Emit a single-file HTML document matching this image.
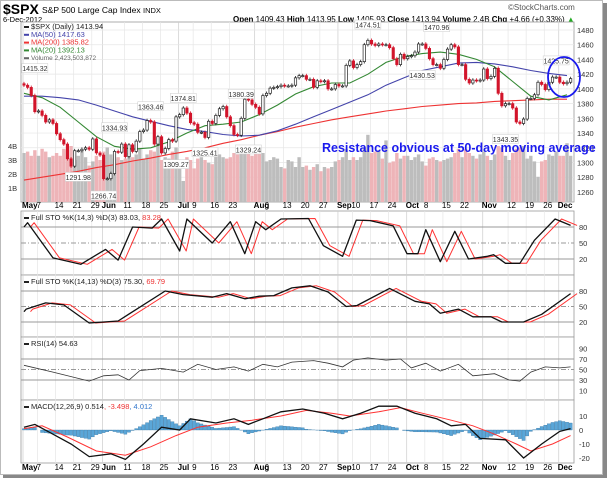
<!DOCTYPE html>
<html><head><meta charset="utf-8"><style>
html,body{margin:0;padding:0;background:#fff;}
svg{display:block;font-family:"Liberation Sans",sans-serif;}
</style></head><body>
<svg id="c" width="609" height="479" viewBox="0 0 609 479" xmlns="http://www.w3.org/2000/svg">
<rect x="0.5" y="0.5" width="602" height="474" fill="#fff" stroke="#bbb"/>
<rect x="603" y="3" width="4" height="474" fill="#888"/>
<rect x="3" y="475" width="604" height="3" fill="#888"/>
<text x="3" y="14" font-size="14" font-weight="bold">$SPX</text>
<text x="42" y="13" font-size="8.5">S&amp;P 500 Large Cap Index <tspan font-size="7.5">INDX</tspan></text>
<text x="508" y="10" font-size="8" fill="#555">©StockCharts.com</text>
<text x="3" y="22" font-size="7.5">6-Dec-2012</text>
<text x="233" y="22" font-size="8"><tspan font-weight="bold">Open</tspan> 1409.43 <tspan font-weight="bold">High</tspan> 1413.95 <tspan font-weight="bold">Low</tspan> 1405.93 <tspan font-weight="bold">Close</tspan> 1413.94 <tspan font-weight="bold">Volume</tspan> 2.4B <tspan font-weight="bold">Chg</tspan> +4.66 (+0.33%) <tspan fill="#2a2">▲</tspan></text>
<g id="g"></g>
</svg>
<script>
const closes=[1405,1402,1391,1369, 1370,1364,1355,1358,1353, 1339,1331,1325,1305,1295, 1316,1316,1318,1320,1318, 1332,1313,1310, 1278,
1278,1285,1315,1314,1325, 1308,1324,1315,1329,1342, 1344,1357,1355,1325,1335, 1313,1319,1331,1329,1362,
1365,1374,1367,1354, 1352,1341,1341,1334,1356, 1353,1364,1373,1376,1362, 1350,1338,1337,1360,1386, 1385,1379,
1375,1366,1391, 1394,1401,1402,1403,1405, 1404,1404,1405,1415,1418, 1418,1413,1413,1402,1411, 1410,1411,1400,1400,1406,
1404,1404,1432,1438, 1429,1433,1437,1460,1466, 1461,1459,1461,1460,1460, 1456,1441,1433,1447,1441,
1444,1445,1450,1461,1461, 1455,1441,1433,1433,1428, 1440,1454,1460,1457,1433, 1433,1413,1408,1412,1411, 1412,
1427,1414, 1417,1428,1394,1377,1380, 1380,1374,1355,1353,1359, 1387,1387,1392,1409, 1406,1399,1409,1416,1416,
1409,1407,1409,1414];
const volumes=[3.5,3.6,3.3,3.7, 3.3,3.8,3.6,3.2,3.3, 3.5,3.3,3.8,3.7,4.0, 3.0,3.3,3.7,3.2,2.6, 2.9,3.3,3.0, 3.6,
3.9,3.4,3.1,3.2,3.0, 3.1,3.5,3.2,3.4,3.8, 3.1,3.4,3.7,3.6,4.2, 3.0,3.2,3.1,3.6,3.9,
3.0,1.5,3.2,3.0, 2.4,3.1,3.2,3.0,2.8, 2.7,3.3,3.4,3.2,3.1, 3.2,3.5,3.4,3.6,3.7, 3.5,3.3,
3.8,3.7,3.5, 2.9,3.0,3.2,3.1,2.5, 2.4,3.0,2.9,2.5,3.2, 2.5,2.6,2.3,2.5,2.7, 2.2,2.5,2.4,2.5,2.9,
3.0,3.2,3.8,3.0, 3.2,3.0,3.2,3.9,4.8, 3.5,3.6,3.7,3.1,4.4, 2.8,2.9,3.5,3.1,3.3,
3.3,3.0,3.2,3.4,2.9, 2.6,3.1,3.2,3.0,2.9, 3.0,3.1,3.2,3.5,3.8, 3.2,3.8,3.5,3.3,3.1, 3.4,
3.6,3.3, 3.0,3.4,4.0,3.9,3.3, 3.0,3.5,3.8,3.9,4.0, 3.1,3.3,2.9,1.8, 2.9,3.0,3.4,3.3,3.6,
3.3,3.3,4.2,3.3];
const ma50=[1390,1390,1388,1385,1378,1370,1362,1356,1350,1345,1342,1338,1336,1337,1343,1352,1362,1372,1382,1392,1405,1415,1425,1430,1435,1436,1434,1430,1425,1421,1418];
const ma20=[1394,1388,1375,1355,1335,1322,1318,1320,1328,1340,1350,1352,1355,1365,1378,1393,1403,1408,1408,1420,1436,1444,1448,1450,1447,1440,1430,1410,1390,1385,1392];
const ma200=[1276,1280,1284,1288,1293,1297,1302,1306,1311,1315,1320,1326,1331,1337,1342,1348,1353,1358,1362,1366,1370,1373,1376,1378,1380,1381,1383,1384,1385,1386,1386];
const sto1Days=[0,1,8,15.7,22.5,26,30,35.4,38,43,45,52,57,61,64,66.8,71,78.6,82.7,88,91.8,95.6,102,105.8,108.8,111,115,119,122.8,128,129.7,133,137,141,146.7,151];
const sto1K=[80,88,22,10,38,18,80,78,95,35,95,50,90,30,90,75,95,96,45,25,93,92,82,30,30,75,15,72,20,25,28,12,12,55,95,83];
const sto2Days=[0,0.6,6,11,18,26,39,44,52,56,61,65,69,74,79,84,89,92,101,108,112,115,120,124,129,132,138,143,151];
const sto2K=[40,45,57,53,18,22,80,73,68,75,65,70,71,86,90,78,50,52,85,60,55,37,45,30,30,20,20,35,75];
const rsiDays=[0,8,18,22,26,29,32,38,44,48,53,58,62,66,70,74,80,84,88,91,95,100,104,107,111,115,120,124,130,134,137,140,144,148,151];
const rsiVals=[58,45,28,38,40,30,48,52,45,60,50,55,47,60,55,64,67,62,55,68,72,68,70,53,62,47,60,38,42,30,28,45,55,53,55];
const macdDays=[0,3,8,13,18,24,28,33,38,43,46,53,58,62,66,71,77,83,88,93,98,103,108,114,118,122,126,133,138,143,148,151];
const macdVals=[2,4,-3,-10,-19,-17,-21,-10,2,0,8,5,8,4,8,13,15,12,8,12,17,17,12,8,3,4,-6,-7,-20,-10,-1,1];
const sigDays=[0,5,12,20,28,35,42,48,56,63,71,78,85,90,98,104,110,118,124,130,136,140,146,151];
const sigVals=[1,3,-5,-15,-18,-12,-4,2,5,7,10,14,12,10,13,16,12,7,3,-3,-10,-15,-10,-4];
const weekLabels=["May","7","14","21","29","Jun","11","18","25","Jul","9","16","23","Aug","6","13","20","27","Sep","10","17","24","Oct","8","15","22","Nov","12","19","26","Dec"];
const weekDays=[0,4,9,14,19,22,28,33,38,43,47,52,57,64,67,72,77,82,87,91,96,101,106,111,116,121,127,134,139,144,148];
const majorMonths=["May","Jun","Jul","Aug","Sep","Oct","Nov","Dec"];
const priceTicks=[1480,1460,1440,1420,1400,1380,1360,1340,1320,1300,1280,1260];
const volTicks=[1,2,3,4];
const annoText=["1415.32","1334.93","1291.98","1266.74","1363.46","1309.27","1374.81","1325.41","1380.39","1329.24","1474.51","1430.53","1470.96","1343.35","1425.75"];
const annoDay=[3,25,15,22,35,42,44,50,60,62,95,110,114,133,147];
const annoPrice=[1415.32,1334.93,1291.98,1266.74,1363.46,1309.27,1374.81,1325.41,1380.39,1329.24,1474.51,1430.53,1470.96,1343.35,1425.75];
const annoAbove=[1,1,0,0,1,0,1,0,1,0,1,0,1,0,1];

const NS="http://www.w3.org/2000/svg";
const G=document.getElementById('g');
function mk(tag,attrs,parent){const e=document.createElementNS(NS,tag);for(const k in attrs)e.setAttribute(k,attrs[k]);(parent||G).appendChild(e);return e;}
const X0=24,DX=3.62,PL=21,PR=574;
const x=i=>X0+i*DX;
const yP=p=>30+(1480-p)*0.736;
const yV=v=>202-v*14;
const yS1=v=>227+(80-v)*32/60;
const yS2=v=>291+(80-v)*31/60;
const yR=v=>359+(70-v)*21/40;
const yM=v=>430-v*1.4;
function pathFrom(days,vals,fx,fy){return days.map((d,k)=>(k?'L':'M')+fx(d).toFixed(1)+','+fy(vals[k]).toFixed(1)).join('');}
function interp(days,vals,d){for(let k=1;k<days.length;k++){if(d<=days[k]){const t=(d-days[k-1])/(days[k]-days[k-1]);return vals[k-1]+t*(vals[k]-vals[k-1]);}}return vals[vals.length-1];}

const panels=[[22,202,'price-panel'],[211,275,'sto-fast-panel'],[275,337,'sto-slow-panel'],[337,400,'rsi-panel'],[400,463,'macd-panel']];
panels.forEach(p=>{
  const r=mk('rect',{x:PL,y:p[0],width:PR-PL,height:p[1]-p[0],fill:'#fff',stroke:'#999','stroke-width':0.8});
  
  
});
weekDays.forEach((d,k)=>{
  panels.forEach(p=>{
    const l=mk('line',{x1:x(d)-1,x2:x(d)-1,y1:p[0],y2:p[1],stroke:majorMonths.includes(weekLabels[k])?'#ccc':'#e6e6e6','stroke-width':0.7});
    
    
  });
  [208,470].forEach(yy=>{
    const t=mk('text',{x:x(d)-2,y:yy,'font-size':8,'font-weight':majorMonths.includes(weekLabels[k])?'bold':'normal'});
    t.textContent=weekLabels[k];
    
    
  });
});
priceTicks.forEach(p=>{
  const l=mk('line',{x1:PL,x2:PR,y1:yP(p),y2:yP(p),stroke:'#e6e6e6','stroke-width':0.7});
  
  
  const t=mk('text',{x:577,y:yP(p)+3,'font-size':7.5,fill:'#333'});
  t.textContent=p;
  
  
});
volTicks.forEach(v=>{
  const t=mk('text',{x:8,y:yV(v)+3,'font-size':7.5,fill:'#333'});
  t.textContent=v+'B';
  
  
});
volumes.forEach((v,i)=>{
  const up=i==0||closes[i]>=closes[i-1];
  const b=mk('rect',{x:x(i)-1.7,y:yV(v),width:3.4,height:202-yV(v),fill:up?'#bdbdbd':'#eeb4b8'});
  
  
});
const maDays=ma50.map((_,k)=>k*5);
[[ma200,'#e33','ma200-line'],[ma50,'#44a','ma50-line'],[ma20,'#383','ma20-line']].forEach(m=>{
  const p=mk('path',{d:pathFrom(maDays,m[0],x,yP),fill:'none',stroke:m[1],'stroke-width':1.1});
  
  
});
closes.forEach((c,i)=>{
  const o=i?closes[i-1]:1407;
  const hi=Math.max(o,c)+2.5,lo=Math.min(o,c)-2.5;
  const up=c>=o;
  const col=up?'#222':'#d2142a';
  const w=mk('line',{x1:x(i),x2:x(i),y1:yP(hi),y2:yP(lo),stroke:col,'stroke-width':0.8});
  
  
  const top=yP(Math.max(o,c)),h=Math.max(1,yP(Math.min(o,c))-top);
  const b=mk('rect',{x:x(i)-1.2,y:top,width:2.4,height:h,fill:up?'#fff':col,stroke:col,'stroke-width':0.7});
  
  
});
annoText.forEach((s,k)=>{
  const cx=x(annoDay[k]),yy=annoAbove[k]?yP(annoPrice[k])-9:yP(annoPrice[k])+9;
  const r=mk('rect',{x:cx-13,y:yy-5,width:26,height:9,fill:'#fff',stroke:'#ccc','stroke-width':0.5});
  
  
  const t=mk('text',{x:cx,y:yy+2.5,'font-size':7,'text-anchor':'middle',fill:'#333'});
  t.textContent=s;
  
  
});
const leg=[['$SPX (Daily) 1413.94','#222'],['MA(50) 1417.63','#44a'],['MA(200) 1385.82','#e33'],['MA(20) 1392.13','#383'],['Volume 2,423,503,872','#666']];
leg.forEach((l,k)=>{
  const s=mk('rect',{x:24,y:26+k*7.8,width:5,height:2,fill:l[1]});
  
  
  const t=mk('text',{x:31,y:29+k*7.8,'font-size':k==4?6.5:7.5,fill:l[1]});
  t.textContent=l[0];
  
  
});
const note=mk('text',{x:322,y:152,'font-size':12.5,'font-weight':'bold',fill:'#1a1aee'});
note.textContent='Resistance obvious at 50-day moving average';


const circ=mk('ellipse',{cx:564,cy:77,rx:16,ry:20,fill:'none',stroke:'#1a1aee','stroke-width':1.8});



function hline(y,dash,name){const l=mk('line',{x1:PL,x2:PR,y1:y,y2:y,stroke:'#999','stroke-width':0.9,'stroke-dasharray':dash?'5,2,1,2':'none'});}
function rlabel(y,s){const t=mk('text',{x:579,y:y+3,'font-size':7.5,fill:'#333'});t.textContent=s;}
[[80,0],[50,1],[20,0]].forEach(a=>{hline(yS1(a[0]),a[1],'sto-fast-level');rlabel(yS1(a[0]),a[0]);hline(yS2(a[0]),a[1],'sto-slow-level');rlabel(yS2(a[0]),a[0]);});
[[70,0],[50,1],[30,0]].forEach(a=>hline(yR(a[0]),a[1],'rsi-level'));
[90,70,50,30,10].forEach(v=>rlabel(yR(v),v));
[10,0,-10,-20].forEach(v=>rlabel(yM(v),v));
[[sto1Days,sto1K,yS1,'sto-fast'],[sto2Days,sto2K,yS2,'sto-slow']].forEach(s=>{
  const d=mk('path',{d:pathFrom(s[0].map(v=>v+1.8),s[1],x,s[2]),fill:'none',stroke:'#f33','stroke-width':1,'stroke-linejoin':'round'});
  
  
  const k=mk('path',{d:pathFrom(s[0],s[1],x,s[2]),fill:'none',stroke:'#111','stroke-width':1.3,'stroke-linejoin':'round'});
  
  
});
const rp=mk('path',{d:pathFrom(rsiDays,rsiVals,x,yR),fill:'none',stroke:'#333','stroke-width':0.8});


for(let i=0;i<closes.length;i++){
  const h=interp(macdDays,macdVals,i)-interp(sigDays,sigVals,i);
  const y0=yM(0),y1=yM(h);
  const b=mk('rect',{x:x(i)-1.6,y:Math.min(y0,y1),width:3.2,height:Math.abs(y1-y0),fill:'#5aa6d8',stroke:'#2a6c9c','stroke-width':0.3});
  
  
}
const sp=mk('path',{d:pathFrom(sigDays,sigVals,x,yM),fill:'none',stroke:'#f33','stroke-width':1});


const mp=mk('path',{d:pathFrom(macdDays,macdVals,x,yM),fill:'none',stroke:'#111','stroke-width':1.3});


const titles=[[220,[['Full STO %K(14,3) %D(3) 83.03, ','#222'],['83.28','#e33']],'sto-fast-title'],[284,[['Full STO %K(14,13) %D(3) 75.30, ','#222'],['69.79','#e33']],'sto-slow-title'],[346,[['RSI(14) 54.63','#222']],'rsi-title'],[409,[['MACD(12,26,9) 0.514','#222'],[', -3.498','#e33'],[', 4.012','#37c']],'macd-title']];
titles.forEach(tt=>{
  const s=mk('rect',{x:24,y:tt[0]-3,width:5,height:2,fill:'#222'});
  
  
  const t=mk('text',{x:31,y:tt[0],'font-size':7.5});
  tt[1].forEach(seg=>{const ts=mk('tspan',{fill:seg[1]},t);ts.textContent=seg[0];});
  
  
});
</script>
</body></html>
